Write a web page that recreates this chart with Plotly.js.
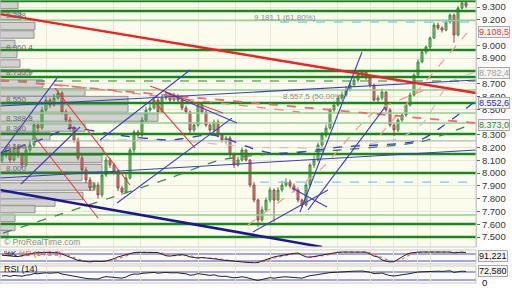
<!DOCTYPE html>
<html><head><meta charset="utf-8">
<script src="https://cdn.plot.ly/plotly-3.0.1.min.js"></script>
<style>html,body{margin:0;padding:0;background:#fff}#chart{width:512px;height:288px}</style>
</head><body><div id="chart"></div>
<script>
// ---- price data (one candle per session) ----
const opens = [8100,8142,8181,8103,8197,8142,8064,8181,8220,8377,8353,8494,8572,8533,8588,8627,8479,8416,8353,8259,8118,8025,7946,7884,7907,7829,7985,8103,8064,8009,7884,7852,7962,8181,8322,8298,8416,8494,8510,8572,8479,8588,8612,8572,8604,8572,8510,8479,8337,8377,8533,8479,8377,8337,8400,8298,8259,8275,8142,8064,8103,8181,8103,7907,7790,7633,7712,7790,7868,7790,7868,7907,7931,7899,7868,7790,7751,7907,8064,8103,8220,8298,8353,8494,8533,8588,8612,8651,8690,8729,8768,8792,8745,8690,8572,8588,8635,8494,8377,8337,8416,8455,8533,8612,8768,8870,8948,8987,9058,9159,9136,9120,9183,9238,9081,9292,9332];
const highs = [8170,8210,8200,8230,8220,8160,8200,8250,8400,8400,8520,8600,8590,8620,8660,8640,8500,8440,8370,8280,8140,8050,7970,7930,7930,8010,8130,8120,8080,8030,7900,7990,8200,8340,8340,8440,8520,8540,8600,8590,8610,8640,8630,8630,8620,8590,8530,8490,8400,8560,8550,8490,8390,8420,8420,8310,8290,8290,8160,8130,8200,8190,8110,7930,7800,7740,7810,7890,7880,7890,7940,7960,7950,7920,7880,7800,7930,8080,8140,8240,8320,8380,8510,8560,8610,8640,8680,8710,8750,8790,8810,8800,8760,8700,8610,8660,8640,8510,8390,8430,8470,8550,8630,8780,8890,8960,9000,9070,9180,9180,9150,9200,9250,9250,9310,9350,9350];
const lows = [8080,8120,8080,8090,8120,8040,8050,8160,8200,8320,8340,8480,8510,8520,8570,8460,8400,8330,8240,8100,8000,7920,7860,7870,7800,7810,7970,8040,7990,7860,7830,7840,7950,8160,8270,8280,8400,8480,8500,8460,8470,8570,8550,8560,8550,8490,8460,8310,8320,8360,8460,8360,8310,8320,8280,8240,8230,8120,8040,8050,8090,8090,7890,7770,7580,7620,7700,7770,7620,7780,7850,7890,7880,7850,7770,7730,7740,7890,8040,8090,8200,8280,8340,8480,8520,8570,8600,8640,8680,8710,8750,8730,8670,8560,8550,8570,8480,8360,8290,8320,8400,8440,8520,8600,8750,8860,8930,8970,9050,9120,9100,9110,9170,9020,9070,9280,9290];
const closes = [8142,8181,8103,8197,8142,8064,8181,8220,8377,8353,8494,8572,8533,8588,8627,8479,8416,8353,8259,8118,8025,7946,7884,7907,7829,7985,8103,8064,8009,7884,7852,7962,8181,8322,8298,8416,8494,8510,8572,8479,8588,8612,8572,8604,8572,8510,8479,8337,8377,8533,8479,8377,8337,8400,8298,8259,8275,8142,8064,8103,8181,8103,7907,7790,7633,7712,7790,7868,7790,7868,7907,7931,7899,7868,7790,7751,7907,8064,8103,8220,8298,8353,8494,8533,8588,8612,8651,8690,8729,8768,8792,8745,8690,8572,8588,8635,8494,8377,8337,8416,8455,8533,8612,8768,8870,8948,8987,9058,9159,9136,9120,9183,9238,9081,9292,9332,9308];
const sessions = closes.map((_, i) => i);

// ---- indicators ----
const stochK = [70,65,62,60,58,65,75,85,90,92,95,94,93,92,90,80,65,50,35,25,20,15,12,18,14,16,20,28,40,55,65,74,85,92,95,96,95,94,93,92,80,65,62,70,72,74,68,55,48,45,50,46,48,42,35,28,24,20,18,16,12,10,6,4,8,20,32,45,55,62,70,74,80,85,88,70,55,52,58,65,70,74,85,92,95,97,97,96,97,96,97,96,80,62,55,30,18,12,14,35,55,75,88,94,96,97,97,96,97,95,94,96,97,90,93,96,91.2];
const stochD = [72,69,66,62,60,61,66,75,83,89,92,94,94,93,92,87,78,65,50,37,27,20,16,15,15,16,17,21,28,41,53,65,75,84,91,94,95,95,94,93,88,79,69,66,68,72,71,66,56,49,48,47,48,45,42,35,29,24,21,18,15,13,9,7,6,11,20,32,44,54,62,69,75,80,84,81,71,59,55,58,64,70,76,84,91,95,96,97,97,96,97,96,91,79,66,49,34,20,15,20,35,55,73,86,93,96,97,97,97,96,95,95,96,94,93,93,94];
const rsi = [50,52,48,53,51,49,54,56,62,61,64,66,64,66,67,60,56,52,47,43,40,38,36,37,35,42,47,45,43,40,39,45,55,60,59,63,65,66,68,64,67,68,66,67,66,63,61,54,56,62,59,55,53,56,50,48,49,44,41,43,46,43,36,32,28,33,38,42,39,43,45,46,45,43,40,39,46,52,54,58,61,63,67,68,70,71,72,73,74,75,75,72,69,62,63,65,58,52,50,54,56,59,62,67,70,71,72,73,75,74,73,75,76,68,72,74,72.58];

// ---- price axis tick labels (those hidden behind value boxes left out) ----
const priceTicks = [7500,7600,7700,7800,7900,8000,8100,8200,8300,8500,8600,8700,8900,9000,9200,9300];

// ---- volume by price (left profile) ----
const vpPrice = [9316,9230,9151,9085,9011,8932,8858,8784,8701,8631,8572,8506,8435,8357,8287,8228,8173,8111,8040,7970,7895,7821,7770,7719,7649,7579,7524];
const vpVolume = [18,21,35,34,15,17,20,30,43,85,128,128,158,85,50,30,103,102,102,82,95,83,55,35,15,15,8];
const vpLabels = [["9.388",9237],["8.960,4",8987],["8.755,9",8791],["8.550",8580],["8.388,8",8431],["8.300",8353],["8.100",8212],["8.000",8040]];

// ---- horizontal support / resistance levels ----
const levelsStrong = [9347,9269,8964,8799,8752,8549,8306,8150,8001,7602,7500];
const levelsLight = [9195,8651,8471,8392,7672];
const levelDashed = [8721];
const levelGrey = [8252];
const fibLevels = [[9181.1,69.5],[7930,64.5]]; // price, first session

// ---- trend lines [x0, price0, x1, price1] ----
const redMain = [[-0.5,9245,118.5,8627]];
const navyMain = [[-0.5,7868,80,7422]];
const blueLines = [[0,8165,13.75,8744],[4.75,7915,19.5,8361],[24.5,8259,47,8807],[28.75,7766,57.5,8431],[-0.5,7962,118.5,8181],[-0.5,8525,118.5,8729],[40.75,8635,58.75,8392],[62.75,7539,81.5,7868],[74.5,7696,90,8948],[76.5,7712,95.75,8517],[72.5,7884,81.25,7735]];
const redLines = [[13.25,8666,32,7907],[8.25,8283,24,7649],[37,8682,55.25,8471],[37.75,8572,48.25,8197]];
const redDashX = [-0.5,118.5], redDashY = [8729,8392];
const redDash2X = [14.5,74.5], redDash2Y = [8690,8478];
const blueDashX = [-0.5,9.5,17,28.75,42,52.75,63.75,69.5,84.5,104.5,117.75];
const blueDashY = [8157,8259,8353,8298,8259,8298,8181,8150,8204,8259,8549];
const greenDashX = [0.25,42,54.5,69.5,84.5,104.5,117];
const greenDashY = [7531,7962,8103,8157,8181,8244,8377];
const greyDashX = [24.5,42,62.75,84.5,99.5,105.25,112,118.5];
const greyDashY = [8259,8259,8204,8204,8275,8392,8713,8791];
const pinkDashX = [94.5,116.25], pinkDashY = [8298,9097];
const pinkDash2X = [61.5,79.5,92.75,107], pinkDash2Y = [7594,8025,8471,8666];

const gridSessions = [11,27.75,34.5,49,58.25,67,83.75,92,97.75,103.75,107];

const FONT = 'Liberation Sans, Arial, sans-serif';
const traces = [];
// volume profile (base subplot)
traces.push({type:'bar', orientation:'h', x:vpVolume, y:vpPrice, width:58, xaxis:'x', yaxis:'y',
  marker:{color:'rgba(205,205,205,0.92)', line:{color:'#8f8f8f', width:1}}, hoverinfo:'skip', showlegend:false});

function hline(levels, color, width, dash){
  levels.forEach(p => traces.push({type:'scatter', mode:'lines', x:[-0.5,118.5], y:[p,p], xaxis:'x2', yaxis:'y',
    line:{color:color, width:width, dash:dash||'solid'}, hoverinfo:'skip', showlegend:false}));
}
hline(levelsLight,'#8fd08f',1.6);
hline(levelGrey,'#b4b4b4',1.2);
hline(levelsStrong,'#17891a',2.4);
hline(levelDashed,'#2a7a2a',1.2,'dash');
fibLevels.forEach(f => traces.push({type:'scatter', mode:'lines', x:[f[1],118.5], y:[f[0],f[0]], xaxis:'x2', yaxis:'y',
  line:{color:'#7cc8f0', width:1.3, dash:'dash'}, hoverinfo:'skip', showlegend:false}));

// candles
traces.push({type:'candlestick', x:sessions, open:opens, high:highs, low:lows, close:closes, xaxis:'x2', yaxis:'y',
  increasing:{line:{color:'#3f8a3f', width:1}, fillcolor:'#7ccc74'},
  decreasing:{line:{color:'#9a4a4a', width:1}, fillcolor:'#e07c7c'},
  whiskerwidth:0, hoverinfo:'skip', showlegend:false});

function seg(list, color, width, dash){
  list.forEach(s => traces.push({type:'scatter', mode:'lines', x:[s[0],s[2]], y:[s[1],s[3]], xaxis:'x2', yaxis:'y',
    line:{color:color, width:width, dash:dash||'solid'}, hoverinfo:'skip', showlegend:false}));
}
function poly(xs, ys, color, width, dash){
  traces.push({type:'scatter', mode:'lines', x:xs, y:ys, xaxis:'x2', yaxis:'y', line:{color:color, width:width, dash:dash, shape:'spline', smoothing:0.6}, hoverinfo:'skip', showlegend:false});
}
poly(greyDashX, greyDashY, '#c4c4c4', 1.2, 'dash');
poly(pinkDashX, pinkDashY, '#f29a8c', 1.2, 'dash');
poly(pinkDash2X, pinkDash2Y, '#f29a8c', 1.2, 'dash');
poly(redDashX, redDashY, '#ee6a6a', 1.8, 'dash');
poly(redDash2X, redDash2Y, '#ee8080', 1.3, 'dash');
poly(greenDashX, greenDashY, '#3a8a50', 1.3, 'dash');
poly(blueDashX, blueDashY, '#3a3acc', 1.3, 'dash');
seg(redLines, '#ee3a3a', 1.1);
seg(blueLines, '#3c3cc8', 1.1);
seg(redMain, '#ee2222', 2.4);
seg(navyMain, '#1a1a90', 2.6);

// stochastic
traces.push({type:'scatter', mode:'lines', x:sessions, y:stochD, xaxis:'x3', yaxis:'y2', line:{color:'#f07070', width:1.2, dash:'dot'}, hoverinfo:'skip', showlegend:false});
traces.push({type:'scatter', mode:'lines', x:sessions, y:stochK, xaxis:'x3', yaxis:'y2', line:{color:'#222', width:1}, hoverinfo:'skip', showlegend:false});
// RSI
traces.push({type:'scatter', mode:'lines', x:sessions, y:rsi, xaxis:'x3', yaxis:'y3', line:{color:'#222', width:1}, hoverinfo:'skip', showlegend:false});

const H = 284;
const dMain = [1-247/H, 1], dSto = [1-264/H, 1-250/H], dRsi = [1-283/H, 1-266/H];

const shapes = [];
[[80,'y2'],[20,'y2'],[70,'y3'],[30,'y3']].forEach(l => shapes.push({type:'line', xref:'paper', x0:0, x1:1, yref:l[1], y0:l[0], y1:l[0], line:{color:'#4a4ae0', width:1}, layer:'below'}));
[dMain, dSto, dRsi].forEach(d => shapes.push({type:'rect', xref:'paper', yref:'paper', x0:0, x1:1, y0:d[0], y1:d[1], line:{color:'#c9c9c9', width:1}, fillcolor:'rgba(0,0,0,0)'}));

const ann = [];
vpLabels.forEach(l => ann.push({xref:'paper', x:0.008, xanchor:'left', yref:'y', y:l[1], text:l[0], showarrow:false, font:{family:FONT, size:8, color:'#6a6a6a'}}));
ann.push({xref:'x2', x:62.5, xanchor:'left', yref:'y', y:9218, text:'9.181,1 (61,80%)', showarrow:false, font:{family:FONT, size:8, color:'#8a8a8a'}});
ann.push({xref:'x2', x:69.8, xanchor:'left', yref:'y', y:8596, text:'8.557,5 (50,00%)', showarrow:false, font:{family:FONT, size:8, color:'#8a8a8a'}});
ann.push({xref:'paper', x:0.004, xanchor:'left', yref:'y', y:7458, text:'© ProRealTime.com', showarrow:false, font:{family:FONT, size:8.5, color:'#8a8a8a'}});
ann.push({xref:'paper', x:0.004, xanchor:'left', yref:'y2', y:86, text:'%K <span style="color:#e05050">%D (14 3 3)</span>', showarrow:false, font:{family:FONT, size:8, color:'#111'}});
ann.push({xref:'paper', x:0.004, xanchor:'left', yref:'y3', y:84, text:'RSI (14)', showarrow:false, font:{family:FONT, size:9, color:'#111'}});
function box(y, yref, text, color){
  ann.push({xref:'paper', x:1, xanchor:'left', xshift:2, yref:yref, y:y, text:text, showarrow:false,
    font:{family:FONT, size:9, color:color}, bgcolor:'#f3f3f3', bordercolor:'#a8a8a8', borderwidth:1, borderpad:0});
}
box(9108.5,'y','9.108,5','#e03a3a');
box(8782.4,'y','8.782,4','#a0a0a0');
box(8552.6,'y','8.552,6','#2a2ab8');
box(8373.0,'y','8.373,0','#2a8a2a');
box(62,'y2','91,221','#111');
box(72.58,'y3','72,580','#111');
ann.push({xref:'paper', x:1, xanchor:'left', xshift:4, yref:'y3', y:17, text:'0', showarrow:false, font:{family:FONT, size:9.5, color:'#111'}});

const layout = {
  width:512, height:288, margin:{l:0, r:36, t:0, b:4},
  paper_bgcolor:'#ffffff', plot_bgcolor:'#fcfcee', separators:',.',
  showlegend:false, font:{family:FONT, size:9.5, color:'#333'},
  xaxis:{domain:[0,1], anchor:'y', range:[0,476], visible:false, fixedrange:true},
  xaxis2:{overlaying:'x', anchor:'y', range:[-0.5,118.5], showticklabels:false, ticks:'', tickvals:gridSessions,
    showgrid:true, gridcolor:'#e7e6d2', gridwidth:1, zeroline:false, rangeslider:{visible:false}},
  xaxis3:{domain:[0,1], anchor:'y3', range:[-0.5,118.5], showticklabels:false, ticks:'', tickvals:gridSessions,
    showgrid:true, gridcolor:'#e7e6d2', zeroline:false},
  yaxis:{domain:dMain, anchor:'x', side:'right', range:[7422,9355], tickvals:priceTicks, tickformat:',.0f',
    ticks:'outside', ticklen:3, tickcolor:'#666', showgrid:true, gridcolor:'#e7e6d2', zeroline:false,
    tickfont:{family:FONT, size:9.5, color:'#333'}, showline:true, linecolor:'#c9c9c9'},
  yaxis2:{domain:dSto, anchor:'x3', range:[-5.7,114.3], showticklabels:false, ticks:'', showgrid:false, zeroline:false},
  yaxis3:{domain:dRsi, anchor:'x3', range:[15,100], showticklabels:false, ticks:'', showgrid:false, zeroline:false},
  shapes:shapes, annotations:ann
};
Plotly.newPlot('chart', traces, layout, {staticPlot:true, displayModeBar:false});
</script></body></html>
